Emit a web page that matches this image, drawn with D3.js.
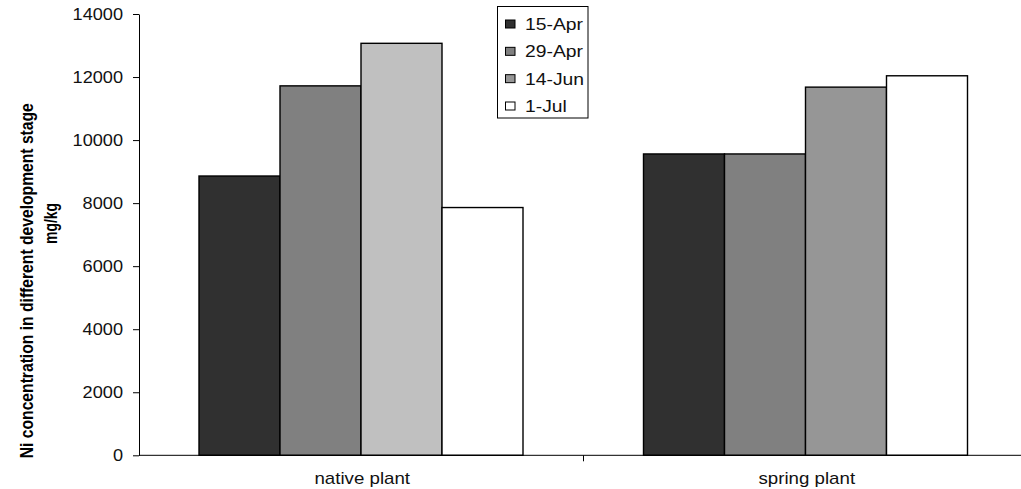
<!DOCTYPE html>
<html>
<head>
<meta charset="utf-8">
<script src="https://cdn.jsdelivr.net/npm/d3@7"></script>
<style>
  html, body { margin: 0; padding: 0; background: #fff; }
  svg { display: block; font-family: "Liberation Sans", Arial, sans-serif; }
</style>
</head>
<body>
<svg id="chart" width="1021" height="489"></svg>
<script>
// ---- data ----
const categories = ["native plant", "spring plant"];
const series = ["15-Apr", "29-Apr", "14-Jun", "1-Jul"];
const nativeValues = [8860, 11720, 13070, 7860];
const springValues = [9560, 9560, 11680, 12040];
const yTicks = [0, 2000, 4000, 6000, 8000, 10000, 12000, 14000];
const yTitleLines = ["Ni concentration in different development stage", "mg/kg"];
// fill colours per series (legend), with native plant's 14-Jun bar lighter as in the original
const seriesFills = ["#303030", "#808080", "#969696", "#ffffff"];
const nativeFills = ["#303030", "#808080", "#c0c0c0", "#ffffff"];
const springFills = ["#303030", "#808080", "#969696", "#ffffff"];

const valuesByCat = [nativeValues, springValues];
const fillsByCat = [nativeFills, springFills];

const svg = d3.select("#chart");

const x = d3.scaleBand().domain(categories).range([139, 1028]).paddingInner(0).paddingOuter(0);
const bw = x.bandwidth();
const xs = d3.scaleBand().domain(series).range([60, bw - 60.5]).padding(0);
const y = d3.scaleLinear().domain([0, 14000]).range([455.3, 14]);

function stretch(sel, k) {
  sel.each(function () {
    const w = this.getComputedTextLength();
    d3.select(this).attr("textLength", w * k).attr("lengthAdjust", "spacingAndGlyphs");
  });
}

// ---- bars ----
const groups = svg.append("g").selectAll("g")
  .data(categories)
  .join("g")
  .attr("transform", d => `translate(${x(d)},0)`);

groups.selectAll("rect")
  .data((c, ci) => series.map((s, si) => ({ s, v: valuesByCat[ci][si], f: fillsByCat[ci][si] })))
  .join("rect")
  .attr("x", d => xs(d.s))
  .attr("width", xs.bandwidth())
  .attr("y", d => y(d.v))
  .attr("height", d => y(0) - y(d.v))
  .attr("fill", d => d.f)
  .attr("stroke", "#000")
  .attr("stroke-width", 1.4);

// ---- y axis ----
const yAxis = svg.append("g")
  .attr("transform", "translate(139,0)")
  .call(d3.axisLeft(y).tickValues(yTicks).tickFormat(d3.format("d")).tickSize(6).tickPadding(10).tickSizeOuter(0));
yAxis.select(".domain").attr("stroke", "#000");
yAxis.selectAll(".tick line").attr("stroke", "#000");
yAxis.selectAll(".tick text")
  .attr("font-family", "Liberation Sans, Arial, sans-serif")
  .attr("font-size", 16.5)
  .attr("fill", "#111");
stretch(yAxis.selectAll(".tick text"), 1.1);

// ---- x axis ----
const xAxis = svg.append("g");
xAxis.append("line")
  .attr("x1", 139).attr("x2", x.range()[1])
  .attr("y1", y(0)).attr("y2", y(0))
  .attr("stroke", "#000").attr("stroke-width", 1);
xAxis.selectAll("line.sep")
  .data(categories.slice(1).concat(["__end"]))
  .join("line")
  .attr("class", "sep")
  .attr("x1", (d, i) => x.range()[0] + bw * (i + 1))
  .attr("x2", (d, i) => x.range()[0] + bw * (i + 1))
  .attr("y1", y(0)).attr("y2", y(0) + 6)
  .attr("stroke", "#000");
const xLabels = xAxis.selectAll("text")
  .data(categories)
  .join("text")
  .attr("x", d => x(d) + bw / 2 + 1)
  .attr("y", 484)
  .attr("text-anchor", "middle")
  .attr("font-size", 17)
  .attr("fill", "#111")
  .text(d => d);
stretch(xLabels, 1.1);

// ---- y title ----
const yTitlePos = [{ x: 32.5, y: 280.7, len: 355 }, { x: 57, y: 223.5, len: 41 }];
svg.append("g").selectAll("text")
  .data(yTitleLines)
  .join("text")
  .attr("transform", (d, i) => `translate(${yTitlePos[i].x},${yTitlePos[i].y}) rotate(-90) scale(1,1.3)`)
  .attr("text-anchor", "middle")
  .attr("font-weight", "bold")
  .attr("font-size", 14.5)
  .attr("fill", "#000")
  .attr("textLength", (d, i) => yTitlePos[i].len)
  .attr("lengthAdjust", "spacingAndGlyphs")
  .text(d => d);

// ---- legend ----
const legend = svg.append("g");
legend.append("rect")
  .attr("x", 497.5).attr("y", 6.5)
  .attr("width", 90.5).attr("height", 111.5)
  .attr("fill", "#fff").attr("stroke", "#000").attr("stroke-width", 1);
const rowY = d3.scalePoint().domain(series).range([24, 106]);
const items = legend.selectAll("g.item")
  .data(series.map((s, i) => ({ s, f: seriesFills[i] })))
  .join("g")
  .attr("class", "item")
  .attr("transform", d => `translate(0,${rowY(d.s)})`);
items.append("rect")
  .attr("x", 505.5).attr("y", -4)
  .attr("width", 9.5).attr("height", 8)
  .attr("fill", d => d.f)
  .attr("stroke", "#000").attr("stroke-width", 1);
const legTexts = items.append("text")
  .attr("x", 525).attr("y", 6)
  .attr("font-size", 16.5)
  .attr("fill", "#111")
  .text(d => d.s);
stretch(legTexts, 1.17);
</script>
</body>
</html>
